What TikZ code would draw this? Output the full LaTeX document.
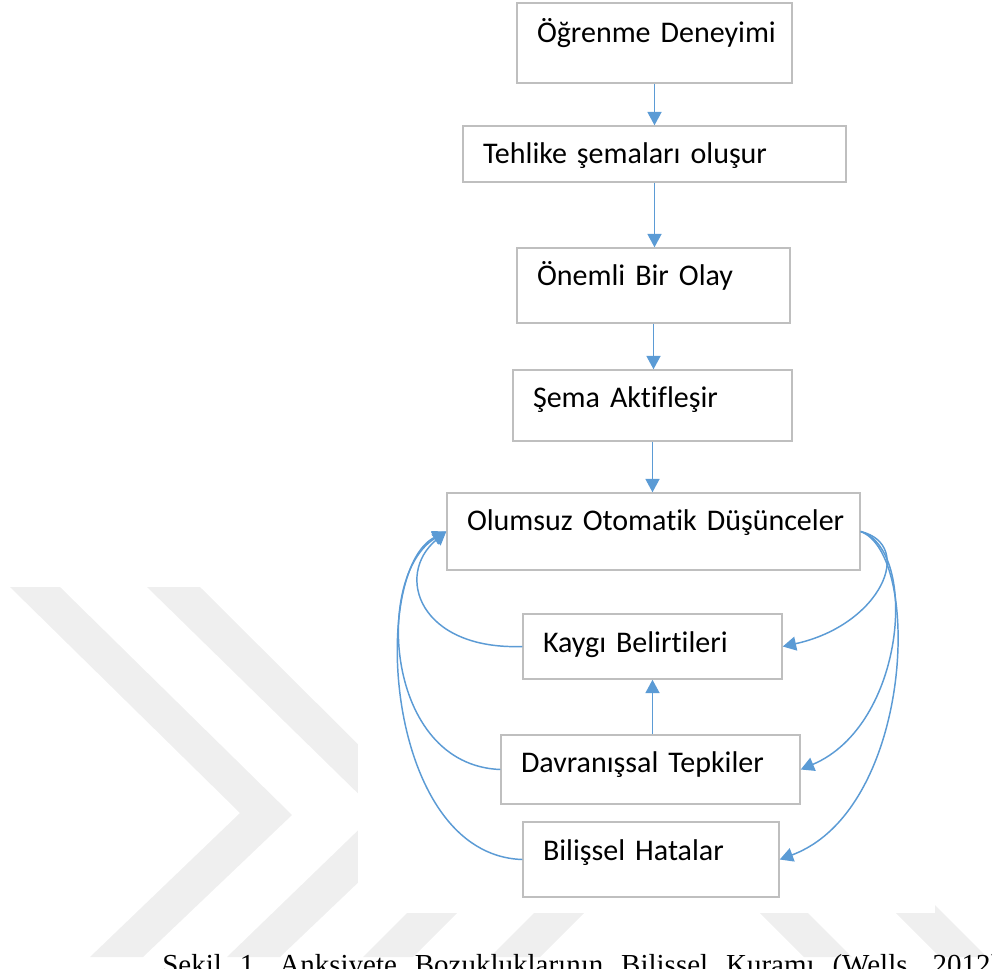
\documentclass[tikz,border=0pt]{standalone}
\usepackage{fontspec}
\setmainfont{Carlito}[Ligatures=NoCommon]
\newfontfamily\capfont{Liberation Serif}
\usepackage{xcolor}
\usetikzlibrary{arrows.meta}
\definecolor{arrblue}{HTML}{5B9BD5}
\definecolor{boxgray}{HTML}{BFBFBF}
\definecolor{wmgray}{HTML}{EFEFEF}

\begin{document}
\begin{tikzpicture}[
    x=0.75pt, y=-0.75pt,
    font=\fontsize{22.5pt}{27pt}\selectfont,
    box/.style={draw=boxgray, line width=1.1pt, align=left,
                inner xsep=15pt, inner ysep=0pt},
    arr/.style={draw=arrblue, line width=1.1pt,
                -{Triangle[length=10pt, width=10.5pt]}},
    wmark/.style={fill=wmgray},
    capstyle/.style={font=\capfont\fontsize{21.75pt}{26pt}\selectfont, inner sep=0pt}
]
\clip (0,0) rectangle (992,968);
% --- watermark in the background ---------------------------------------
\fill[wmark] (10,587) -- (60,587) -- (292,815) -- (143,957) -- (90,957) -- (240,813) -- cycle;
\fill[wmark] (147,587) -- (200,587) -- (429,815) -- (280,957) -- (227,957) -- (377,812) -- cycle;
\fill[wmark] (363,957) -- (413,957) -- (490,880) -- (440,880) -- cycle;
\fill[wmark] (490,957) -- (540,957) -- (617,880) -- (567,880) -- cycle;
\fill[wmark] (804,957) -- (852,957) -- (775,880) -- (727,880) -- cycle;
\fill[wmark] (940,957) -- (987,957) -- (910,880) -- (863,880) -- cycle;
\fill[white] (358,0) rectangle (935,913);
% --- caption (cut off by the page) -------------------------------------
\node[capstyle, anchor=base west] (capt) at (162,974)
     {\frenchspacing\makebox[628.5pt][s]{Şekil 1. Anksiyete Bozukluklarının Bilişsel Kuramı (Wells, 2012)}};
% --- main chain --------------------------------------------------------
\node[box, text width=176.25pt, text height=29.25pt, text depth=30.75pt] (ogr) at (654.5,43)    {\mbox{Öğrenme Deneyimi}};
\node[box, text width=257.25pt, text height=27.75pt, text depth=14.25pt] (teh) at (654.5,154)   {\mbox{Tehlike şemaları oluşur}};
\node[box, text width=174.75pt, text height=27.75pt, text depth=28.5pt]  (onm) at (653.5,285.5) {\mbox{Önemli Bir Olay}};
\node[box, text width=179.25pt, text height=27.75pt, text depth=25.5pt]  (sem) at (652.5,405.5) {\mbox{Şema Aktifleşir}};
\node[box, text width=279.75pt, text height=27.75pt, text depth=30pt]    (olu) at (653.5,531.5) {\mbox{Olumsuz Otomatik Düşünceler}};
% --- loop --------------------------------------------------------------
\node[box, text width=164.25pt, text height=28.5pt,  text depth=20.25pt] (kay) at (652.5,646.5) {\mbox{Kaygı Belirtileri}};
\node[box, text width=194.25pt, text height=27.75pt, text depth=24pt]    (dav) at (650.5,769.5) {\mbox{Davranışsal Tepkiler}};
\node[box, text width=162pt,    text height=28.5pt,  text depth=27.75pt] (bil) at (651,859.5)   {\mbox{Bilişsel Hatalar}};
% --- arrows ------------------------------------------------------------
\draw[arr] (ogr.south) -- (ogr.south |- teh.north);
\draw[arr] (teh.south) -- (teh.south |- onm.north);
\draw[arr] (onm.south) -- (onm.south |- sem.north);
\draw[arr] (sem.south) -- (sem.south |- olu.north);
\draw[arr] (kay.south |- dav.north) -- (kay.south);
% right side: thoughts -> outcomes
\draw[arr] (olu.east) .. controls +(55,13.5) and +(98,-21.5)  .. (kay.east);
\draw[arr] (olu.east) .. controls +(58,18.5) and +(105,-44.5) .. (dav.east);
\draw[arr] (olu.east) .. controls +(62,23.5) and +(133,-49.5) .. (bil.east);
% left side: outcomes -> thoughts
\draw[arr] (kay.west) .. controls +(-103,3.5)  and +(-52,43.5) .. (olu.west);
\draw[arr] (dav.west) .. controls +(-116,-4.5) and +(-72,43.5) .. (olu.west);
\draw[arr] (bil.west) .. controls +(-138,-4.5) and +(-77,38.5) .. (olu.west);
\end{tikzpicture}
\end{document}
